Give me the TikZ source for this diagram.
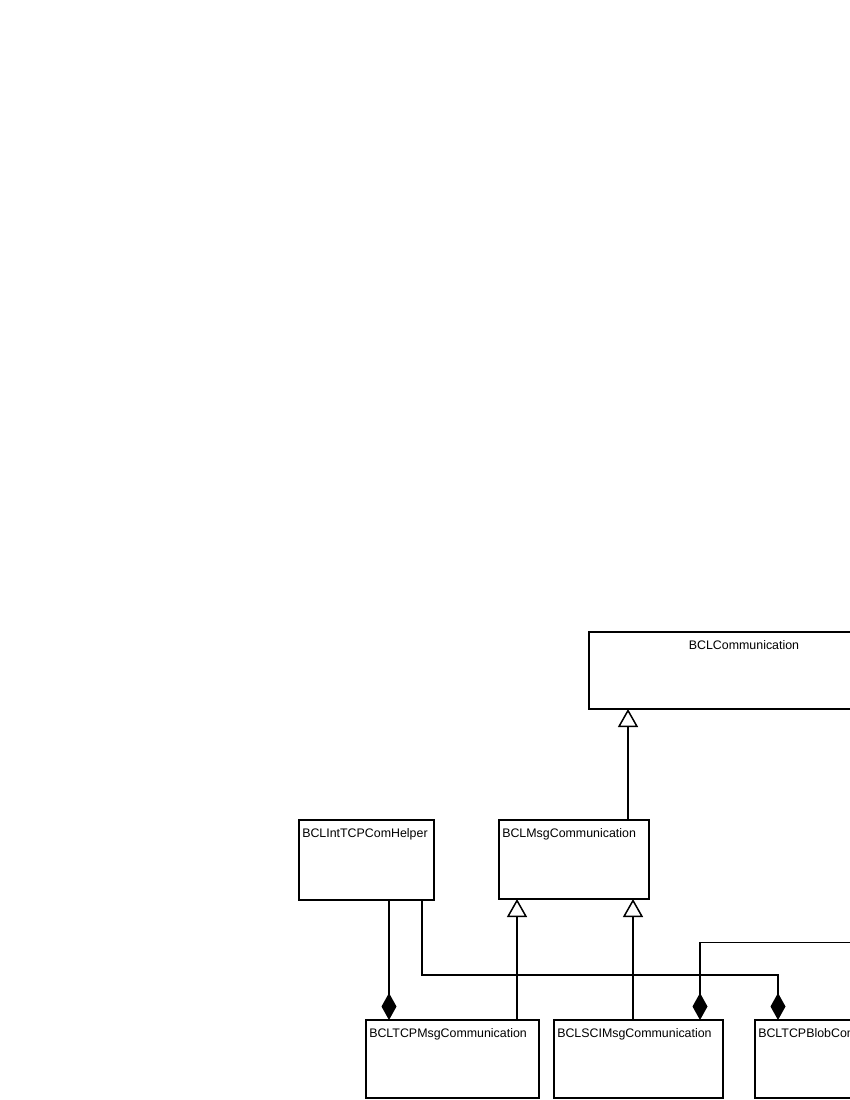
\documentclass[tikz,border=0pt]{standalone}
\usepackage{fontspec}
\setmainfont{Liberation Sans}
\usepackage{tikz}
\usetikzlibrary{arrows.meta,calc}

\begin{document}
\begin{tikzpicture}[x=1pt, y=-1pt, line width=1.5pt, font=\fontsize{12.4}{15}\selectfont,
        cls/.style={draw, rectangle, inner sep=0pt, outer sep=0pt, minimum height=78pt},
        clsname/.style={label={[anchor=base west, inner sep=0pt, xshift=2.5pt, yshift=-17pt]north west:#1}},
        inh/.style={-{Triangle[open, length=18pt, width=20pt]}},
        comp/.style={-{Diamond[length=27pt, width=15pt]}}]
        \useasboundingbox (0,0) rectangle (850,1100);
        \clip (0,0) rectangle (850,1100);

        \node (comm) [cls, minimum width=310pt, minimum height=77pt,
            label={[anchor=base, inner sep=0pt, yshift=-17pt]north:BCLCommunication}] at (744,670.5) {};
        \node (helper) [cls, minimum width=135pt, minimum height=80pt, clsname=BCLIntTCPComHelper] at (366.5,860) {};
        \node (msg) [cls, minimum width=150pt, minimum height=79pt, clsname=BCLMsgCommunication] at (574,859.5) {};
        \node (tcpmsg) [cls, minimum width=173pt, clsname=BCLTCPMsgCommunication] at (452.5,1059) {};
        \node (sci) [cls, minimum width=169pt, clsname=BCLSCIMsgCommunication] at (638.5,1059) {};
        \node (blob) [cls, minimum width=175pt, clsname=BCLTCPBlobCommunication] at (842.5,1059) {};
        \coordinate (scihelper) at (900,942.5);

        \draw[inh] ([xshift=54pt]msg.north) -- ([xshift=-116pt]comm.south);
        \draw[inh] ([xshift=64.5pt]tcpmsg.north) -- ([xshift=-57pt]msg.south);
        \draw[inh] ([xshift=-5.5pt]sci.north) -- ([xshift=59pt]msg.south);
        \draw[comp] ([xshift=22.5pt]helper.south) -- ([xshift=-63.5pt]tcpmsg.north);
        \draw[comp] ([xshift=55.5pt]helper.south) -- ++(0,75) -| ([xshift=-64.5pt]blob.north);
        \draw[comp] (scihelper) -| ([xshift=61.5pt]sci.north);
    \end{tikzpicture}
\end{document}
